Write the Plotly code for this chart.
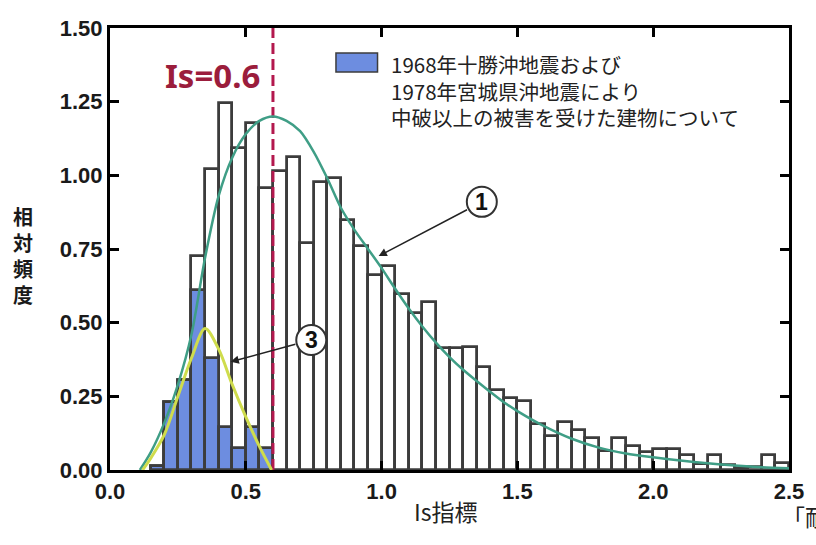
import plotly.graph_objects as go

# --- Histogram of Is index (relative frequency), bins of width 0.05 starting at 0.15 ---
BIN_WIDTH = 0.05
FIRST_BIN_START = 0.15

# all surveyed buildings (white bars)
all_buildings = [
    0.015, 0.230, 0.305, 0.727, 1.021, 1.244, 1.092, 1.176, 0.956, 1.016,
    1.063, 0.769, 0.978, 0.990, 0.848, 0.760, 0.662, 0.693, 0.596, 0.534,
    0.571, 0.413, 0.413, 0.418, 0.351, 0.271, 0.243, 0.235, 0.155, 0.115,
    0.162, 0.135, 0.108, 0.064, 0.110, 0.082, 0.062, 0.071, 0.071, 0.051,
    0.019, 0.051, 0.017, 0.006, 0.011, 0.051, 0.023,
]
# buildings with moderate or worse damage (blue bars), first bins only
damaged_buildings = [0.015, 0.230, 0.305, 0.611, 0.379, 0.147, 0.074, 0.147, 0.074]

bin_centers = [round(FIRST_BIN_START + BIN_WIDTH * (i + 0.5), 4) for i in range(len(all_buildings))]
damaged_centers = bin_centers[:len(damaged_buildings)]

# fitted distribution (1): all buildings
curve1_x = [0.11, 0.15, 0.20, 0.25, 0.30, 0.35, 0.40, 0.45, 0.50, 0.55, 0.60, 0.65,
            0.70, 0.75, 0.80, 0.85, 0.90, 0.95, 1.00, 1.05, 1.10, 1.15, 1.20, 1.25,
            1.30, 1.35, 1.40, 1.45, 1.50, 1.60, 1.70, 1.80, 1.90, 2.00, 2.10, 2.20,
            2.30, 2.40, 2.50]
curve1_y = [0.0, 0.06, 0.16, 0.29, 0.46, 0.72, 0.93, 1.06, 1.14, 1.185, 1.20, 1.185,
            1.15, 1.08, 0.99, 0.89, 0.815, 0.75, 0.685, 0.615, 0.548, 0.487, 0.432, 0.383,
            0.340, 0.302, 0.265, 0.230, 0.200, 0.148, 0.106, 0.076, 0.056, 0.043, 0.032, 0.023,
            0.015, 0.009, 0.006]

# fitted distribution (3): damaged buildings
curve3_x = [0.12, 0.15, 0.20, 0.25, 0.30, 0.35, 0.40, 0.45, 0.50, 0.55, 0.595]
curve3_y = [0.0, 0.04, 0.12, 0.25, 0.38, 0.48, 0.41, 0.29, 0.18, 0.08, 0.0]

IS_THRESHOLD = 0.6

x_ticks = [0.0, 0.5, 1.0, 1.5, 2.0, 2.5]
y_ticks = [0.0, 0.25, 0.5, 0.75, 1.0, 1.25, 1.5]

legend_lines = ["1968年十勝沖地震および", "1978年宮城県沖地震により", "中破以上の被害を受けた建物について"]
y_title = "相対頻度"
x_title = "Is指標"

CJK = "Noto Sans CJK JP"
EDGE = "#3c3c3c"
BLUE = "#6d8de0"
GREEN = "#3f9e86"
YELLOW = "#cfdc4c"
CRIMSON = "#b3184e"

fig = go.Figure()

fig.add_trace(go.Bar(
    x=bin_centers, y=all_buildings, width=BIN_WIDTH,
    marker=dict(color="white", line=dict(color=EDGE, width=2.8)),
    showlegend=False,
))
fig.add_trace(go.Bar(
    x=damaged_centers, y=damaged_buildings, width=BIN_WIDTH,
    marker=dict(color=BLUE, line=dict(color=EDGE, width=2.8)),
    showlegend=False,
))
fig.add_trace(go.Scatter(
    x=[IS_THRESHOLD, IS_THRESHOLD], y=[y_ticks[0], y_ticks[-1]], mode="lines",
    line=dict(color=CRIMSON, width=3, dash="11px,5px"), showlegend=False,
))
fig.add_trace(go.Scatter(
    x=curve1_x, y=curve1_y, mode="lines",
    line=dict(color=GREEN, width=2.5, shape="spline", smoothing=0.8), showlegend=False,
))
fig.add_trace(go.Scatter(
    x=curve3_x, y=curve3_y, mode="lines",
    line=dict(color=YELLOW, width=3, shape="spline", smoothing=0.9), showlegend=False,
))

tick_font = dict(family="Liberation Sans", size=22, color="#1a1a1a", weight="bold")

fig.update_layout(
    width=816, height=545,
    margin=dict(l=110, r=21, t=28, b=75),
    paper_bgcolor="white", plot_bgcolor="white",
    barmode="overlay", bargap=0,
    xaxis=dict(
        range=[x_ticks[0], x_ticks[-1]], tickvals=x_ticks, tickformat=".1f",
        ticks="inside", ticklen=9, tickwidth=2.5, tickcolor="black",
        showline=True, linewidth=3, linecolor="black", mirror="ticks",
        showgrid=False, zeroline=False, tickfont=tick_font,
    ),
    yaxis=dict(
        range=[y_ticks[0], y_ticks[-1]], tickvals=y_ticks, tickformat=".2f",
        ticks="inside", ticklen=9, tickwidth=2.5, tickcolor="black",
        showline=True, linewidth=3, linecolor="black", mirror="ticks",
        showgrid=False, zeroline=False, tickfont=tick_font,
    ),
)

# legend swatch and three-line caption
fig.add_shape(type="rect", xref="x", yref="y", x0=0.832, x1=0.985, y0=1.351, y1=1.415,
              fillcolor=BLUE, line=dict(color=EDGE, width=1.5), layer="above")
fig.add_annotation(x=1.026, y=1.289, xref="x", yref="y", text="<br>".join(legend_lines),
                   showarrow=False, xanchor="left", yanchor="middle", align="left",
                   font=dict(family=CJK, size=20.5, color="#222"))

# threshold label
fig.add_annotation(x=0.376, y=1.340, xref="x", yref="y", text=f"Is={IS_THRESHOLD}",
                   showarrow=False, font=dict(family="Noto Sans", size=33, color="#9b1d3c", weight="bold"))

# numbered callouts with arrows
callouts = [
    ("1", (1.369, 0.910), (0.989, 0.726), (1.320, 0.886)),
    ("3", (0.741, 0.441), (0.444, 0.367), (0.688, 0.428)),
]
for label, (cx, cy), (tx, ty), (ax_, ay_) in callouts:
    fig.add_annotation(x=tx, y=ty, ax=ax_, ay=ay_, xref="x", yref="y", axref="x", ayref="y",
                       text="", showarrow=True, arrowhead=2, arrowsize=1.1, arrowwidth=1.5,
                       arrowcolor="#222")
    fig.add_shape(type="circle", xref="x", yref="y", xsizemode="pixel", ysizemode="pixel",
                  xanchor=cx, yanchor=cy, x0=-15, x1=15, y0=-15, y1=15,
                  fillcolor="white", line=dict(color="#333", width=2), layer="above")
    fig.add_annotation(x=cx, y=cy, xref="x", yref="y", text=label, showarrow=False,
                       font=dict(family="Liberation Sans", size=23, color="#111", weight="bold"))

# axis titles (vertical title stacked one character per line)
fig.add_annotation(x=-0.146, y=0.485, xref="paper", yref="paper",
                   text="<br>".join(y_title), showarrow=False,
                   font=dict(family=CJK, size=20, color="#1a1a1a", weight="bold"))
fig.add_annotation(x=0.495, y=-0.136, xref="paper", yref="paper", text=x_title, showarrow=False,
                   font=dict(family=CJK, size=23, color="#222"))
fig.add_annotation(x=0.987, y=-0.147, xref="paper", yref="paper", text="「耐震", showarrow=False,
                   xanchor="left", font=dict(family=CJK, size=23, color="#222"))

fig.write_html("out.html")
